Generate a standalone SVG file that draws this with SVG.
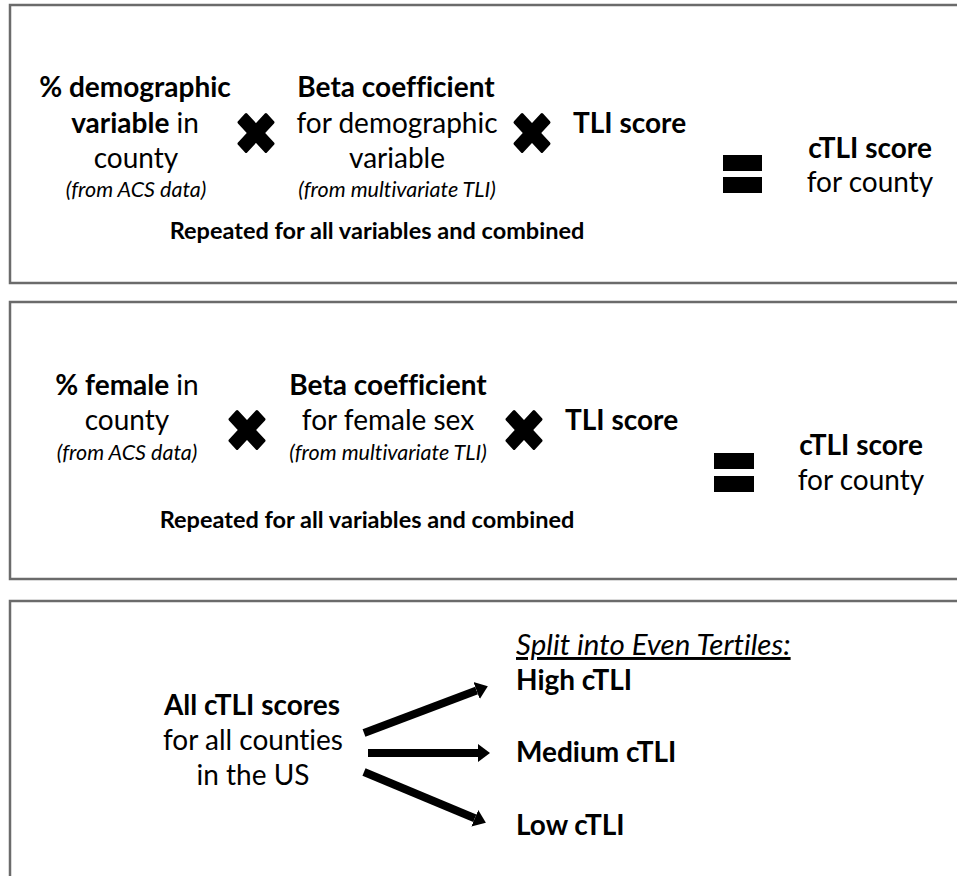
<svg xmlns="http://www.w3.org/2000/svg" width="957" height="876" viewBox="0 0 957 876">
<style>
.box{fill:#fff;stroke:#6b6b6b;stroke-width:2.5}
text{font-family:Lato,"Open Sans",sans-serif;fill:#000;font-variant-ligatures:none}
.t{font-size:28px;text-anchor:middle}
.b{font-weight:bold}
.s{font-size:21.5px;font-style:italic;text-anchor:middle}
.r{font-size:23.5px;font-weight:bold;text-anchor:middle}
.l{font-size:28px;text-anchor:start}
.sp{font-size:29.5px;font-style:italic;text-decoration:underline;text-anchor:start}
.arrow{stroke:#000;stroke-width:8;fill:none;marker-end:url(#head)}
</style>
<defs>
<marker id="head" markerUnits="userSpaceOnUse" markerWidth="14" markerHeight="20" refX="0" refY="9" orient="auto" viewBox="0 0 14 18">
<path d="M0,0 L12,9 L0,18 Z" fill="#000"/>
</marker>
<g id="cross">
<rect x="-20.5" y="-6.5" width="41" height="13" rx="1.5" transform="rotate(45)"/>
<rect x="-20.5" y="-6.5" width="41" height="13" rx="1.5" transform="rotate(-45)"/>
</g>
</defs>
<rect width="957" height="876" fill="#fff"/>

<g id="panel1">
<rect class="box" x="10" y="5" width="960" height="278"/>
<g id="p1-demographic">
<text class="t b" x="135" y="97">% demographic</text>
<text class="t" x="135" y="133"><tspan font-weight="bold">variable</tspan> in</text>
<text class="t" x="136" y="168">county</text>
<text class="s" x="136" y="197">(from ACS data)</text>
</g>
<g id="p1-times1"><use href="#cross" transform="translate(256,133) scale(1,1.08)"/></g>
<g id="p1-beta">
<text class="t b" x="396" y="97">Beta coefficient</text>
<text class="t" x="397" y="133">for demographic</text>
<text class="t" x="397" y="168">variable</text>
<text class="s" x="397" y="197">(from multivariate TLI)</text>
</g>
<g id="p1-times2"><use href="#cross" transform="translate(532,133) scale(1,1.08)"/></g>
<g id="p1-tli"><text class="l b" x="573" y="133">TLI score</text></g>
<g id="p1-equals"><rect x="723" y="155" width="39" height="16"/><rect x="723" y="177" width="39" height="16"/></g>
<g id="p1-ctli">
<text class="t b" x="870" y="158">cTLI score</text>
<text class="t" x="870" y="192">for county</text>
</g>
<g id="p1-repeated"><text class="r" x="377" y="239">Repeated for all variables and combined</text></g>
</g>

<g id="panel2">
<rect class="box" x="10" y="302" width="960" height="277"/>
<g id="p2-female">
<text class="t" x="127" y="395"><tspan font-weight="bold">% female</tspan> in</text>
<text class="t" x="127" y="430">county</text>
<text class="s" x="127" y="460">(from ACS data)</text>
</g>
<g id="p2-times1"><use href="#cross" transform="translate(247,430) scale(1,1.08)"/></g>
<g id="p2-beta">
<text class="t b" x="388" y="395">Beta coefficient</text>
<text class="t" x="388" y="430">for female sex</text>
<text class="s" x="388" y="460">(from multivariate TLI)</text>
</g>
<g id="p2-times2"><use href="#cross" transform="translate(524,430) scale(1,1.08)"/></g>
<g id="p2-tli"><text class="l b" x="565" y="430">TLI score</text></g>
<g id="p2-equals"><rect x="714" y="453" width="40" height="16"/><rect x="714" y="476" width="40" height="16"/></g>
<g id="p2-ctli">
<text class="t b" x="861" y="455">cTLI score</text>
<text class="t" x="861" y="490">for county</text>
</g>
<g id="p2-repeated"><text class="r" x="367" y="528">Repeated for all variables and combined</text></g>
</g>

<g id="panel3">
<rect class="box" x="10" y="601" width="960" height="290"/>
<g id="p3-all">
<text class="t b" x="252" y="715">All cTLI scores</text>
<text class="t" x="253" y="750">for all counties</text>
<text class="t" x="253" y="785">in the US</text>
</g>
<g id="p3-split"><text class="sp" x="516" y="655">Split into Even Tertiles:</text></g>
<g id="p3-high"><text class="l b" x="516" y="690">High cTLI</text></g>
<g id="p3-medium"><text class="l b" x="516" y="762">Medium cTLI</text></g>
<g id="p3-low"><text class="l b" x="516" y="835">Low cTLI</text></g>
</g>

<g id="connectors">
<line class="arrow" x1="364" y1="733" x2="476.6" y2="690.5"/>
<line class="arrow" x1="368" y1="753" x2="478" y2="753"/>
<line class="arrow" x1="364" y1="772" x2="474.8" y2="818.2"/>
</g>
</svg>
